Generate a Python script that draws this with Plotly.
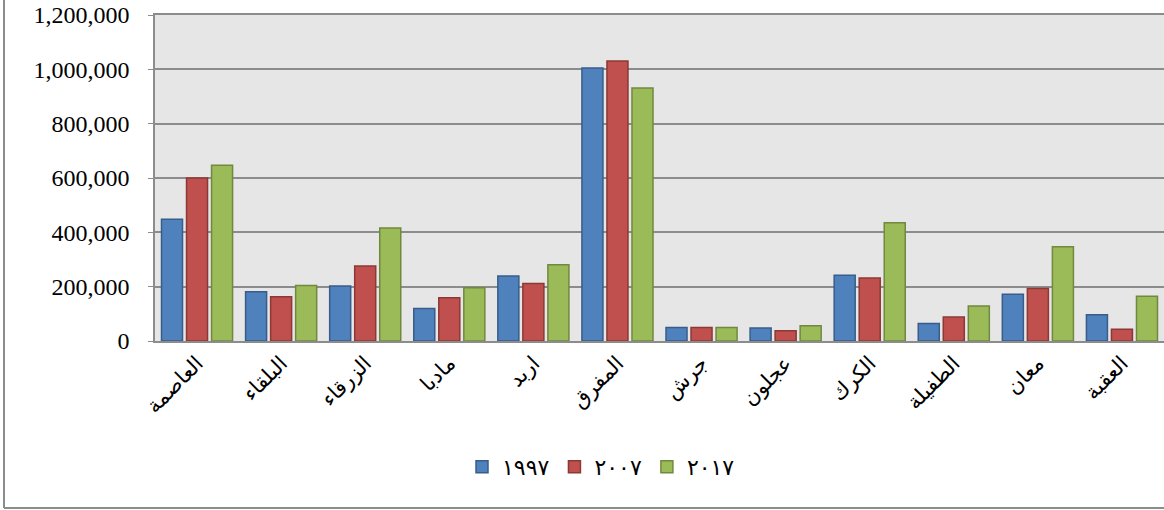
import plotly.graph_objects as go

categories = ["العاصمة", "البلقاء", "الزرقاء", "مادبا", "اربد", "المفرق",
              "جرش", "عجلون", "الكرك", "الطفيلة", "معان", "العقبة"]
series_names = ["١٩٩٧", "٢٠٠٧", "٢٠١٧"]
values_1997 = [448000, 181000, 202000, 120000, 239000, 1005000, 50000, 48000, 242000, 64000, 172000, 97000]
values_2007 = [600000, 163000, 276000, 159000, 212000, 1031000, 50000, 38000, 232000, 88000, 193000, 43000]
values_2017 = [647000, 204000, 416000, 196000, 281000, 931000, 50000, 56000, 435000, 129000, 347000, 165000]
y_ticks = [0, 200000, 400000, 600000, 800000, 1000000, 1200000]

fills = ["#4F81BD", "#C0504D", "#9BBB59"]
lines = ["#385D8A", "#8C3836", "#71893F"]

fig = go.Figure()
for name, vals, fc, lc in zip(series_names, [values_1997, values_2007, values_2017], fills, lines):
    fig.add_trace(go.Bar(x=categories, y=vals, name=name,
                         marker=dict(color=fc, line=dict(color=lc, width=1.5))))

W, H = 1164, 510
ml, mr, mt, mb = 155, 0, 15, 169
pw, ph = W - ml - mr, H - mt - mb

fig.update_layout(
    width=W, height=H,
    margin=dict(l=ml, r=mr, t=mt, b=mb),
    paper_bgcolor="white",
    plot_bgcolor="#E6E6E6",
    barmode="group",
    bargap=0.107,
    bargroupgap=0.16,
    font=dict(family="Liberation Serif, DejaVu Sans", color="black"),
    showlegend=True,
    legend=dict(orientation="h", x=601 / W, xref="container", xanchor="center",
                y=(H - 467) / H, yref="container", yanchor="middle",
                font=dict(size=22, family="Liberation Serif, DejaVu Sans"),
                itemwidth=30, traceorder="normal"),
    xaxis=dict(tickangle=-45, tickfont=dict(size=21, family="DejaVu Sans"),
               showline=True, linecolor="#8C8C8C", linewidth=1.5,
               mirror=True, ticks="", automargin=False),
    yaxis=dict(range=[0, 1200000], tickvals=y_ticks, tickformat=",",
               tickfont=dict(size=24, family="Liberation Serif"),
               ticklabeloverflow="allow", ticklabelstandoff=14,
               showgrid=True, gridcolor="#8C8C8C", gridwidth=1.5,
               showline=True, linecolor="#8C8C8C", linewidth=1.5, mirror=True,
               zeroline=False, ticks="outside", ticklen=5, tickcolor="#8C8C8C",
               automargin=False),
    shapes=[
        dict(type="line", xref="paper", yref="paper",
             x0=-(ml - 4) / pw, x1=-(ml - 4) / pw, y0=1 + mt / ph, y1=-(508 - mt - ph) / ph,
             line=dict(color="#8C8C8C", width=2)),
        dict(type="line", xref="paper", yref="paper",
             x0=-(ml - 4) / pw, x1=1, y0=-(508 - mt - ph) / ph, y1=-(508 - mt - ph) / ph,
             line=dict(color="#8C8C8C", width=2)),
    ],
)

fig.write_html("out.html", config={"displayModeBar": False},
               post_script="document.body.style.margin='0';document.body.style.overflow='hidden';")
